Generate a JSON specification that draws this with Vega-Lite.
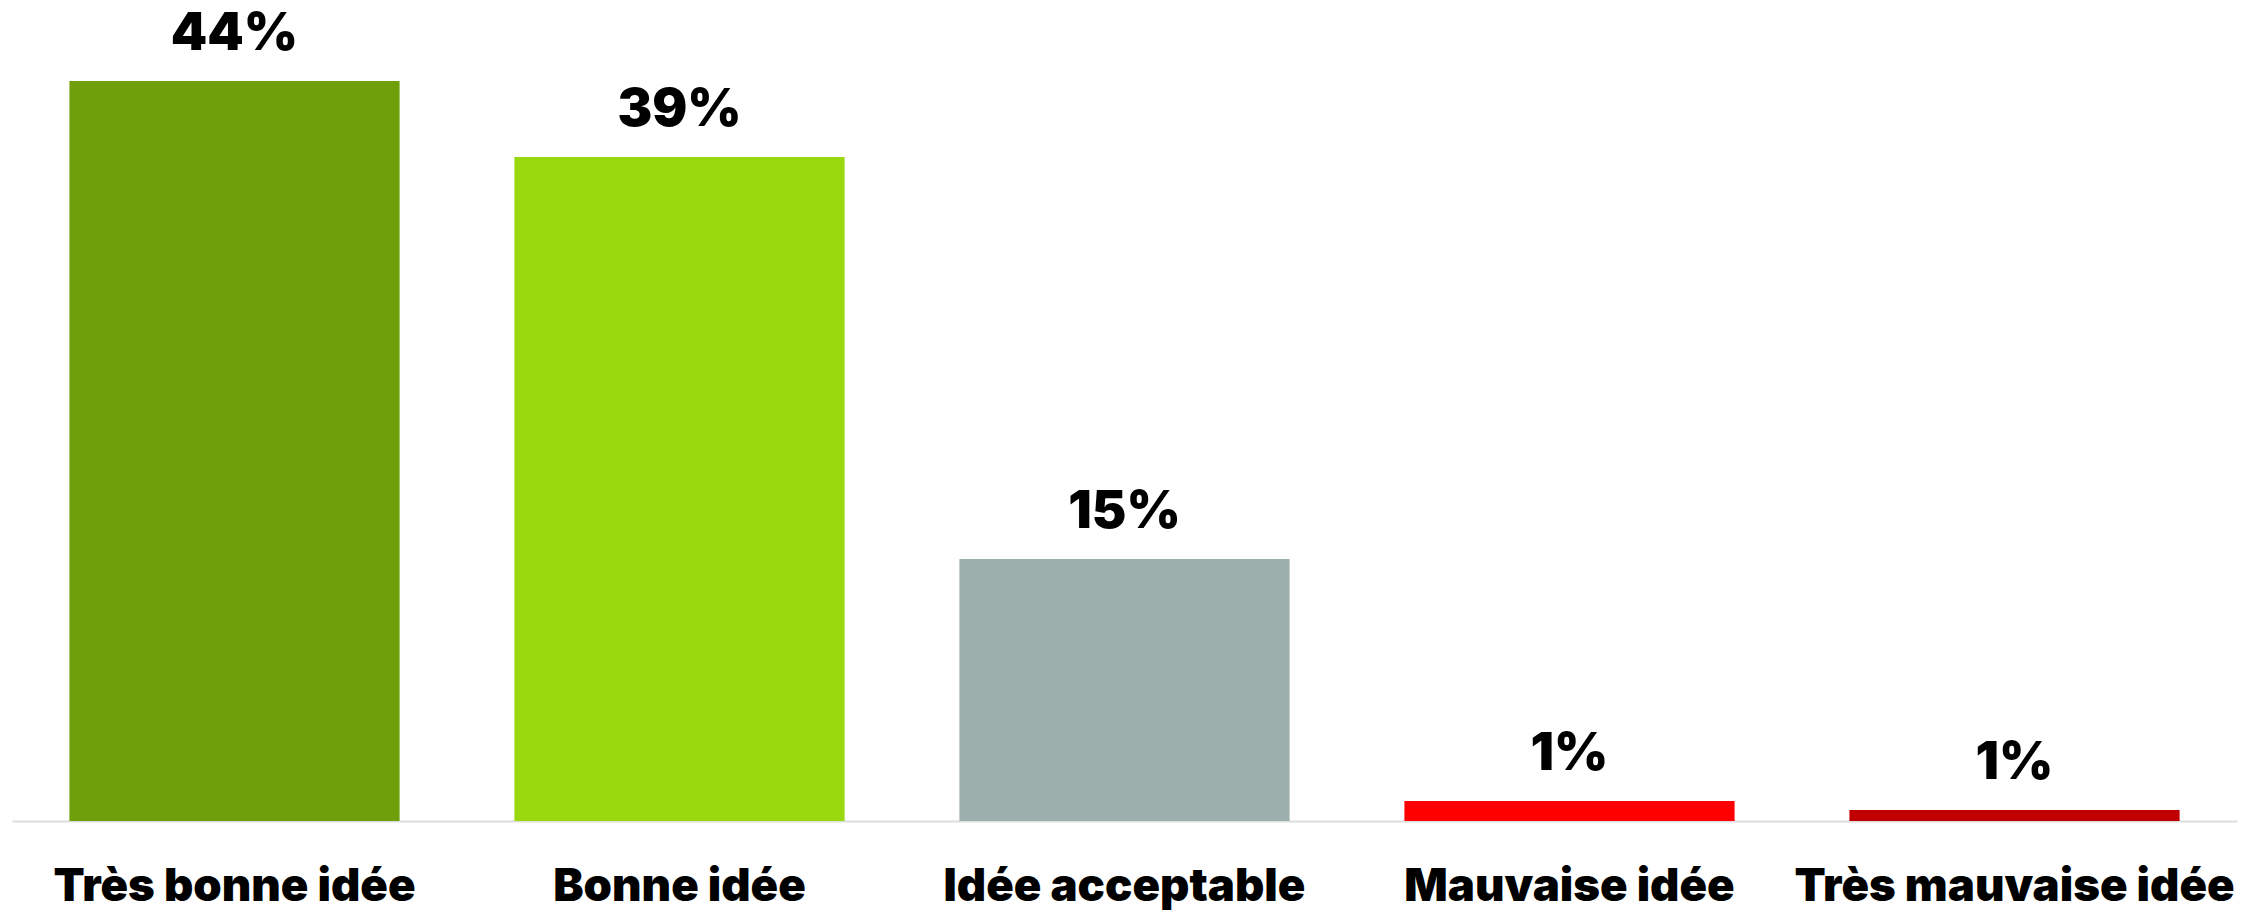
{
  "$schema": "https://vega.github.io/schema/vega-lite/v6.json",
  "autosize": {"type": "none"},
  "width": 2225,
  "height": 740,
  "padding": {"left": 12, "top": 81, "right": 12, "bottom": 92},
  "background": "white",
  "config": {"view": {"stroke": null}, "font": "Inter"},
  "data": {
    "values": [
      {"categorie": "Très bonne idée", "valeur": 44, "etiquette": "44%", "couleur": "#6FA00B"},
      {"categorie": "Bonne idée", "valeur": 39.48, "etiquette": "39%", "couleur": "#99D80C"},
      {"categorie": "Idée acceptable", "valeur": 15.58, "etiquette": "15%", "couleur": "#9CAFAD"},
      {"categorie": "Mauvaise idée", "valeur": 1.19, "etiquette": "1%", "couleur": "#FF0000"},
      {"categorie": "Très mauvaise idée", "valeur": 0.66, "etiquette": "1%", "couleur": "#C00000"}
    ]
  },
  "encoding": {
    "x": {
      "field": "categorie",
      "type": "nominal",
      "sort": null,
      "scale": {"paddingInner": 0.258, "paddingOuter": 0.129},
      "axis": {
        "title": null,
        "labelAngle": 0,
        "labelLimit": 0,
        "ticks": false,
        "grid": false,
        "domainColor": "#DDDDDD",
        "domainWidth": 2,
        "labelFont": "Inter",
        "labelFontWeight": 900,
        "labelFontSize": 45.5,
        "labelColor": "#000000",
        "labelBaseline": "alphabetic",
        "labelPadding": 79
      }
    },
    "y": {
      "field": "valeur",
      "type": "quantitative",
      "scale": {"domain": [0, 44], "nice": false, "zero": true},
      "axis": null
    }
  },
  "layer": [
    {
      "mark": {"type": "bar"},
      "encoding": {
        "color": {"field": "couleur", "type": "nominal", "scale": null, "legend": null}
      }
    },
    {
      "mark": {
        "type": "text",
        "font": "Inter",
        "fontWeight": 900,
        "fontSize": 52,
        "baseline": "alphabetic",
        "align": "center",
        "dy": -31,
        "color": "#000000"
      },
      "encoding": {
        "text": {"field": "etiquette", "type": "nominal"}
      }
    }
  ]
}
